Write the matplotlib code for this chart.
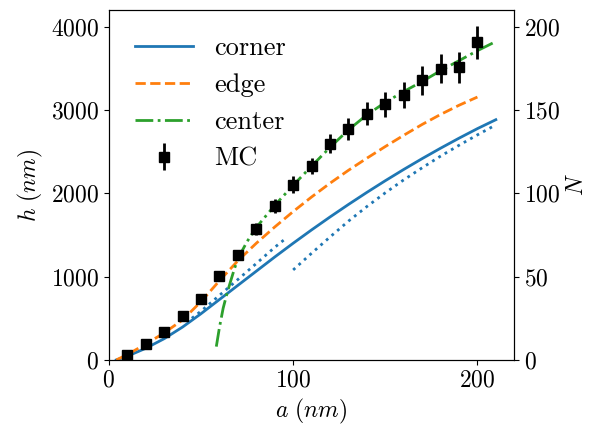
import matplotlib
matplotlib.use("Agg")
import matplotlib.pyplot as plt

plt.rcParams['font.family'] = 'serif'
plt.rcParams['font.serif'] = ['cmr10']
plt.rcParams['mathtext.fontset'] = 'cm'
plt.rcParams['axes.formatter.use_mathtext'] = True
plt.rcParams['font.size'] = 17

# corner curve
a_corner = [4, 10, 20, 30, 40, 50, 60, 70, 80, 90, 100, 110, 120, 130, 140, 150,
            160, 170, 180, 190, 200, 210]
h_corner = [0, 45, 140, 255, 395, 555, 725, 895, 1065, 1235, 1400, 1560, 1715, 1865,
            2010, 2150, 2285, 2415, 2540, 2660, 2775, 2882]

# corner approximations (dotted)
a_corner_lo = [45, 50, 60, 70, 80, 90, 95]
h_corner_lo = [500, 585, 775, 965, 1157, 1351, 1440]
a_corner_hi = [100, 110, 120, 130, 140, 150, 160, 170, 180, 190, 200, 210]
h_corner_hi = [1080, 1280, 1475, 1665, 1840, 2005, 2160, 2305, 2445, 2575, 2700, 2820]

# edge curve
a_edge = [4, 10, 20, 30, 40, 50, 60, 70, 80, 90, 100, 110, 120, 130, 140, 150,
          160, 170, 180, 190, 200]
h_edge = [0, 65, 190, 325, 480, 700, 950, 1190, 1400, 1595, 1780, 1955, 2120, 2275,
          2420, 2560, 2695, 2825, 2945, 3055, 3154]

# center curve
a_center = [58.3, 60, 62, 64, 66, 68, 70, 75, 80, 90, 100, 110, 120, 130, 140, 150,
            160, 170, 180, 190, 200, 210]
h_center = [160, 390, 620, 790, 940, 1085, 1215, 1420, 1590, 1855, 2095, 2325, 2550,
            2760, 2940, 3090, 3220, 3340, 3470, 3590, 3710, 3820]

# Monte Carlo points
a_mc = [10, 20, 30, 40, 50, 60, 70, 80, 90, 100, 110, 120, 130, 140, 150, 160, 170,
        180, 190, 200]
h_mc = [63, 188, 339, 527, 734, 1002, 1261, 1573, 1848, 2104, 2327, 2595, 2770, 2954,
        3066, 3182, 3353, 3493, 3513, 3812]
h_err = [5, 10, 17, 26, 37, 50, 60, 75, 88, 100, 100, 116, 130, 136, 146, 156, 170,
         176, 185, 198]

fig = plt.figure(figsize=(6.05, 4.28), dpi=100)
ax = fig.add_axes([0.180, 0.159, 0.670, 0.818])

ax.plot(a_corner, h_corner, color='C0', lw=2, label='corner')
ax.plot(a_edge, h_edge, color='C1', lw=2, ls='--', label='edge')
ax.plot(a_center, h_center, color='C2', lw=2, ls='-.', label='center')
ax.plot(a_corner_lo, h_corner_lo, color='C0', lw=2, ls=':')
ax.plot(a_corner_hi, h_corner_hi, color='C0', lw=2, ls=':')
ax.errorbar(a_mc, h_mc, yerr=h_err, fmt='s', color='black', ms=7.5,
            elinewidth=2, label='MC')

ax.set_xlim(0, 220)
ax.set_ylim(0, 4200)
ax.set_xticks([0, 100, 200])
ax.set_yticks([0, 1000, 2000, 3000, 4000])
ax.set_xlabel(r'$a\ (nm)$')
ax.set_ylabel(r'$h\ (nm)$')
ax.legend(loc='upper left', frameon=False, fontsize=19, handlelength=2.2,
          borderaxespad=0.6)

ax2 = ax.twinx()
ax2.set_ylim(0, 210)
ax2.set_yticks([0, 50, 100, 150, 200])
ax2.set_ylabel(r'$N$')

fig.savefig('out.png', dpi=100)
